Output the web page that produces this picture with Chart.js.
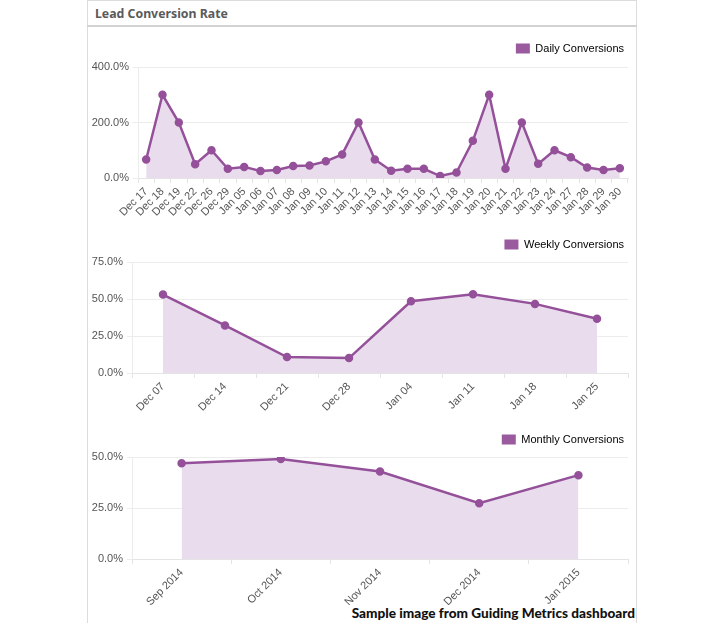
<!DOCTYPE html>
<html><head><meta charset="utf-8">
<script src="https://cdn.jsdelivr.net/npm/chart.js@4"></script>
<style>
body{margin:0;background:#fff;width:724px;height:623px;position:relative;overflow:hidden;font-family:"Liberation Sans",Arial,sans-serif}
#panel{position:absolute;left:87px;top:0;width:548px;height:622px;border:1px solid #dcdcdc;}
#title{position:absolute;left:87px;top:0;width:550px;height:25px;border-bottom:2px solid #d2d2d2;}
#title span{position:absolute;left:8px;top:5px;font-family:"Noto Sans",sans-serif;font-weight:bold;font-size:12.3px;color:#5a5a5a}
#foot{position:absolute;right:89px;top:605px;font-family:"Lato",sans-serif;font-weight:900;font-size:13.6px;color:#111}
.c{position:absolute;left:88px;width:547px}
</style></head><body>
<div id="panel"></div>
<div id="title"><span>Lead Conversion Rate</span></div>
<div class="c" style="top:35px;height:183px"><canvas id="c1"></canvas></div>
<div class="c" style="top:231px;height:180px"><canvas id="c2"></canvas></div>
<div class="c" style="top:426px;height:179px"><canvas id="c3"></canvas></div>
<div id="foot">Sample image from Guiding Metrics dashboard</div>
<script>
const dailyLabels = ["Dec 17","Dec 18","Dec 19","Dec 22","Dec 26","Dec 29","Jan 05","Jan 06","Jan 07","Jan 08","Jan 09","Jan 10","Jan 11","Jan 12","Jan 13","Jan 14","Jan 15","Jan 16","Jan 17","Jan 18","Jan 19","Jan 20","Jan 21","Jan 22","Jan 23","Jan 24","Jan 27","Jan 28","Jan 29","Jan 30"];
const dailyValues = [66.7,300,200,50,100,33.3,40,25,28.6,43,45,60,85,200,67,26,33.3,33.3,7,20,134,300,33.3,200,51,100,75,38,29,35];
const weeklyLabels = ["Dec 07","Dec 14","Dec 21","Dec 28","Jan 04","Jan 11","Jan 18","Jan 25"];
const weeklyValues = [53.0,32.1,10.8,10.1,48.5,53.2,46.7,36.6];
const monthlyLabels = ["Sep 2014","Oct 2014","Nov 2014","Dec 2014","Jan 2015"];
const monthlyValues = [46.9,49.0,42.9,27.3,41.1];

const LINE = '#95509a';
const FILL = '#e9dded';
const TICK = {family:'"Liberation Sans", Arial, sans-serif', size:11};

function make(id, labels, values, name, max, step, yWidth, xHeight, padTop, legendShift){
  const shiftPlugin = {
    id:'legendShift',
    afterLayout(chart){
      const lg = chart.legend;
      if (lg && !lg._shifted){
        const orig = lg.draw.bind(lg);
        lg.draw = function(a){ const ctx = chart.ctx; ctx.save(); ctx.translate(0, legendShift); orig(a); ctx.restore(); };
        lg._shifted = true;
      }
    }
  };
  new Chart(document.getElementById(id), {
    type:'line',
    data:{labels:labels, datasets:[{label:name, data:values, borderColor:LINE, backgroundColor:FILL,
      fill:'origin', borderWidth:2.5, pointRadius:3, pointBackgroundColor:LINE, pointBorderColor:LINE, tension:0}]},
    options:{
      responsive:true, maintainAspectRatio:false, animation:false,
      layout:{padding:{top:padTop, right:7, left:0, bottom:0}},
      plugins:{
        legend:{position:'top', align:'end',
          labels:{boxWidth:14, boxHeight:10, color:'#555', font:{family:'"Liberation Sans", Arial, sans-serif', size:11}, padding:4,
            generateLabels:(c)=>[{text:name, fillStyle:'#9a5a9e', strokeStyle:'#9a5a9e', lineWidth:0, datasetIndex:0}]}},
        tooltip:{enabled:false}
      },
      scales:{
        x:{offset:true, ticks:{autoSkip:false, minRotation:45, maxRotation:45, color:'#555', font:TICK, padding:2},
           grid:{drawOnChartArea:false, drawTicks:true, tickLength:5, color:'#e4e4e4', offset:true},
           border:{color:'#e4e4e4'},
           afterFit:(s)=>{s.height = xHeight;}},
        y:{min:0, max:max, ticks:{stepSize:step, color:'#555', font:TICK, padding:4, callback:(v)=>v.toFixed(1)+'%'},
           grid:{color:'#ececec', tickLength:5}, border:{color:'#ececec'},
           afterFit:(s)=>{s.width = yWidth;}}
      }
    },
    plugins:[shiftPlugin]
  });
}
make('c1', dailyLabels, dailyValues, 'Daily Conversions', 400, 200, 50, 40, 7, -3);
make('c2', weeklyLabels, weeklyValues, 'Weekly Conversions', 75, 25, 44, 38, 6, -2);
make('c3', monthlyLabels, monthlyValues, 'Monthly Conversions', 50, 25, 44, 46, 6, -2);
</script>
</body></html>
